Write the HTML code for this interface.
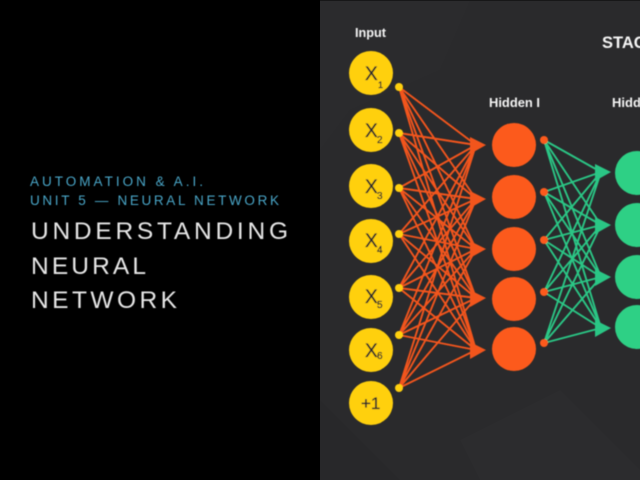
<!DOCTYPE html>
<html>
<head>
<meta charset="utf-8">
<style>
html,body{margin:0;padding:0;background:#000;width:640px;height:480px;overflow:hidden}
svg{display:block;position:absolute;left:0;top:0}
text{font-family:"Liberation Sans",sans-serif}
</style>
</head>
<body>
<svg width="640" height="480" viewBox="0 0 640 480" xmlns="http://www.w3.org/2000/svg">
<defs><filter id="b"><feGaussianBlur stdDeviation="0.45"/></filter></defs>
<rect width="640" height="480" fill="#000"/>
<rect x="320" width="320" height="480" fill="#2a2a2c"/>
<polygon points="320,1 470,1 440,70 350,110 320,150" fill="#2b2b2d"/>
<polygon points="320,400 400,480 320,480" fill="#28282a"/>
<polygon points="460,440 560,390 640,470 640,480 480,480" fill="#2c2c2e"/>
<rect x="320" width="320" height="1" fill="#171718"/>

<g filter="url(#b)">
<text x="30" y="186" font-size="13.5" fill="#4aa6c8" textLength="173" lengthAdjust="spacing">AUTOMATION &amp; A.I.</text>
<text x="30" y="205" font-size="13.5" fill="#4aa6c8" textLength="249" lengthAdjust="spacing">UNIT 5 — NEURAL NETWORK</text>
<text x="31" y="239" font-size="24.5" fill="#e6e6e6" textLength="257" lengthAdjust="spacing">UNDERSTANDING</text>
<text x="31" y="274" font-size="24.5" fill="#e6e6e6" textLength="115" lengthAdjust="spacing">NEURAL</text>
<text x="31" y="308" font-size="24.5" fill="#e6e6e6" textLength="146" lengthAdjust="spacing">NETWORK</text>

<text x="355" y="37" font-size="13" font-weight="bold" fill="#f4f4f4" textLength="31" lengthAdjust="spacingAndGlyphs">Input</text>
<text x="489" y="107" font-size="13" font-weight="bold" fill="#f4f4f4" textLength="51" lengthAdjust="spacingAndGlyphs">Hidden I</text>
<text x="612" y="107" font-size="13" font-weight="bold" fill="#f4f4f4">Hidden</text>
<text x="602" y="48" font-size="16.5" font-weight="bold" fill="#f6f6f6">STACK</text>

<path fill="none" stroke="#f2551f" stroke-width="1.9" d="
M399 87L476 145M399 87L476 199M399 87L476 249M399 87L476 298M399 87L476 350
M399 133L476 145M399 133L476 199M399 133L476 249M399 133L476 298M399 133L476 350
M399 188L476 145M399 188L476 199M399 188L476 249M399 188L476 298M399 188L476 350
M399 234L476 145M399 234L476 199M399 234L476 249M399 234L476 298M399 234L476 350
M399 288L476 145M399 288L476 199M399 288L476 249M399 288L476 298M399 288L476 350
M399 335L476 145M399 335L476 199M399 335L476 249M399 335L476 298M399 335L476 350
M399 388L476 145M399 388L476 199M399 388L476 249M399 388L476 298M399 388L476 350"/>
<g fill="#f2551f">
<polygon points="486,145 470,137 470,154"/>
<polygon points="486,199 470,191 470,208"/>
<polygon points="486,249 470,241 470,258"/>
<polygon points="486,298 470,290 470,307"/>
<polygon points="486,350 470,342 470,359"/>
</g>

<path fill="none" stroke="#2cc685" stroke-width="1.9" d="
M544 140L601 172M544 140L601 225M544 140L601 277M544 140L601 328
M544 192L601 172M544 192L601 225M544 192L601 277M544 192L601 328
M544 240L601 172M544 240L601 225M544 240L601 277M544 240L601 328
M544 292L601 172M544 292L601 225M544 292L601 277M544 292L601 328
M544 343L601 172M544 343L601 225M544 343L601 277M544 343L601 328"/>
<g fill="#2cc685">
<polygon points="611,172 595,164 595,181"/>
<polygon points="611,225 595,217 595,234"/>
<polygon points="611,277 595,269 595,286"/>
<polygon points="611,328 595,320 595,337"/>
</g>

<g fill="#ffd00f">
<circle cx="371" cy="73" r="22"/>
<circle cx="371" cy="130" r="22"/>
<circle cx="371" cy="186" r="22"/>
<circle cx="371" cy="241" r="22"/>
<circle cx="371" cy="297" r="22"/>
<circle cx="371" cy="350" r="22"/>
<circle cx="371" cy="403" r="22"/>
<circle cx="399" cy="87" r="4"/>
<circle cx="399" cy="133" r="4"/>
<circle cx="399" cy="188" r="4"/>
<circle cx="399" cy="234" r="4"/>
<circle cx="399" cy="288" r="4"/>
<circle cx="399" cy="335" r="4"/>
<circle cx="399" cy="388" r="4"/>
</g>

<g fill="#fc5a1c">
<circle cx="514" cy="145" r="22"/>
<circle cx="514" cy="197" r="22"/>
<circle cx="514" cy="249" r="22"/>
<circle cx="514" cy="299" r="22"/>
<circle cx="514" cy="349" r="22"/>
<circle cx="544" cy="140" r="4"/>
<circle cx="544" cy="192" r="4"/>
<circle cx="544" cy="240" r="4"/>
<circle cx="544" cy="292" r="4"/>
<circle cx="544" cy="343" r="4"/>
</g>

<g fill="#2ed085">
<circle cx="637" cy="173" r="22"/>
<circle cx="637" cy="225" r="22"/>
<circle cx="637" cy="277" r="22"/>
<circle cx="637" cy="327" r="22"/>
</g>

<g fill="#2b2b2b" font-size="19" stroke="#2b2b2b" stroke-width="0.3">
<text x="365" y="80">X</text><text x="378" y="88" font-size="9">1</text>
<text x="365" y="137">X</text><text x="377" y="143" font-size="10">2</text>
<text x="365" y="193">X</text><text x="377" y="199" font-size="10">3</text>
<text x="365" y="247">X</text><text x="377" y="253" font-size="10">4</text>
<text x="365" y="303">X</text><text x="377" y="308" font-size="10">5</text>
<text x="365" y="357">X</text><text x="377" y="359" font-size="10">6</text>
<text x="361" y="409" font-size="17" font-weight="normal">+1</text>
</g>
</g>
</svg>
</body>
</html>
